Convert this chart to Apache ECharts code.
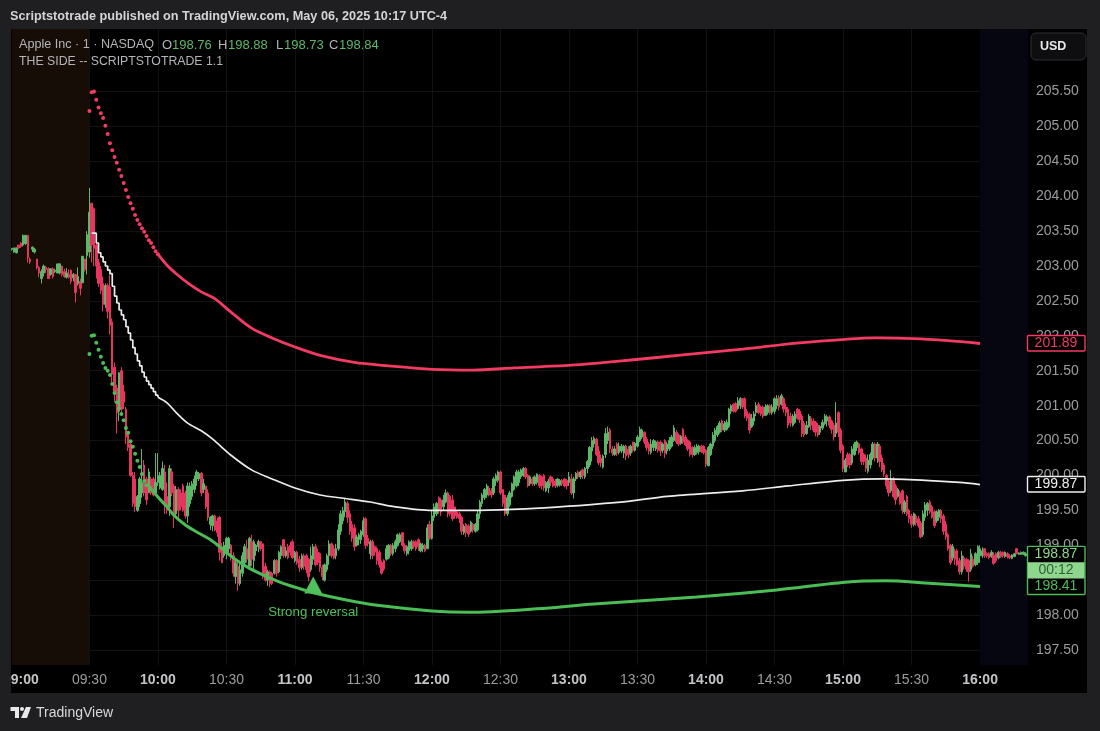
<!DOCTYPE html>
<html><head><meta charset="utf-8">
<style>html,body{margin:0;padding:0;background:#1f1f22;overflow:hidden}#c{width:1100px;height:731px}</style>
<script src="https://cdn.jsdelivr.net/npm/echarts@6/dist/echarts.min.js"></script>
</head><body><div id="c"></div>
<script>
// OHLC rows: [open, close, low, high], one per minute, split by session block
const pre0856=[[203.24,203.25,203.22,203.26],[203.2,203.26,203.19,203.26],[203.19,203.26,203.18,203.26],[203.3,203.26,203.25,203.3],[203.33,203.28,203.26,203.34],[203.3,203.44,203.28,203.45],[203.32,203.44,203.3,203.44],[203.44,203.12,203.05,203.44],[203.1,203.06,203.03,203.12],[203.24,203.27,203.2,203.28],[203.2,203.24,203.18,203.26],[203.1,202.98,202.95,203.1],[202.98,202.9,202.84,203.0],[202.82,202.92,202.75,202.95],[202.9,203.0,202.85,203.02],[202.98,202.95,202.9,203.0],[202.96,202.82,202.82,202.98],[202.88,202.96,202.86,202.97],[202.96,202.85,202.82,202.98],[202.92,202.94,202.9,202.96],[202.9,203.03,202.9,203.03],[202.9,203.03,202.88,203.04],[203.0,202.88,202.85,203.0],[202.92,202.85,202.83,202.96],[202.84,202.9,202.82,202.97],[202.88,202.84,202.82,202.95],[202.94,202.78,202.74,202.95],[202.83,202.88,202.78,202.9],[202.88,202.62,202.48,202.88],[202.75,202.85,202.72,202.98],[202.78,202.68,202.58,202.82],[202.76,203.14,202.76,203.14],[203.1,202.95,202.92,203.1],[203.15,203.45,202.88,203.5]];
const open0930=[[203.2,203.77,203.12,204.12],[203.9,203.3,203.05,203.9],[203.82,203.25,203.0,203.84],[203.3,203.0,202.82,203.35],[203.05,202.75,202.7,203.1],[202.95,202.65,202.6,203.0],[202.75,202.45,202.35,202.85],[202.45,202.72,202.4,202.75],[202.72,202.35,202.25,202.75],[202.7,202.15,202.02,202.88],[202.2,201.45,201.3,202.25],[201.55,201.2,201.05,201.62],[201.25,200.9,200.6,201.3],[200.92,201.47,200.78,201.48],[201.5,200.95,200.9,201.55],[201.2,201.05,200.95,201.3],[200.95,200.55,200.45,200.98],[200.6,200.4,200.35,200.62],[200.45,200.0,199.98,200.5],[200.0,199.6,199.55,200.05],[199.95,199.55,199.48,200.05],[199.5,199.7,199.48,199.72],[199.6,199.95,199.55,199.98],[199.75,199.9,199.68,200.38],[200.15,199.75,199.7,200.22],[199.95,199.65,199.58,199.98],[199.75,200.05,199.75,200.1],[199.95,199.75,199.72,199.98],[199.95,199.72,199.7,199.98],[199.75,199.9,199.72,200.32]];
const bars1000=[[199.9,200.0,199.85,200.32],[199.82,200.0,199.8,200.05],[199.8,200.1,199.78,200.2],[200.05,199.55,199.45,200.15],[199.7,199.5,199.45,199.9],[199.55,200.1,199.42,200.15],[200.05,199.75,199.7,200.1],[199.85,199.4,199.25,199.88],[199.45,199.8,199.42,199.85],[199.8,199.5,199.38,199.83],[199.75,199.55,199.5,199.8],[199.85,199.5,199.48,199.88],[199.75,199.42,199.38,199.78],[199.42,199.85,199.32,199.9],[199.6,199.85,199.55,199.9],[199.7,199.88,199.65,199.92],[199.8,199.95,199.75,200.0],[199.95,200.05,199.85,200.08],[199.95,200.03,199.92,200.05],[200.03,199.75,199.7,200.05],[199.8,199.88,199.75,199.95],[199.85,199.55,199.52,199.85],[199.75,199.4,199.35,199.8],[199.3,199.4,199.22,199.42],[199.28,199.42,199.2,199.44],[199.42,199.22,199.2,199.44],[199.35,199.18,199.12,199.4],[199.4,198.9,198.78,199.42],[198.98,198.75,198.75,199.03],[198.85,199.0,198.82,199.05],[198.88,199.1,198.8,199.12],[198.95,199.1,198.85,199.12],[199.0,198.82,198.78,199.02],[198.85,198.6,198.55,198.9],[198.55,198.75,198.45,198.78],[198.7,198.45,198.35,198.78],[198.45,198.65,198.42,198.78],[198.6,198.85,198.55,198.9],[198.75,198.98,198.7,199.02],[198.95,198.8,198.75,199.08],[198.7,199.1,198.72,199.12],[199.05,198.8,198.7,199.15],[198.78,199.05,198.65,199.08],[198.92,199.0,198.85,199.02],[198.98,199.05,198.9,199.08],[199.05,198.95,198.92,199.06],[199.02,198.55,198.52,199.02],[198.7,198.5,198.48,198.75],[198.5,198.62,198.42,198.65],[198.62,198.45,198.4,198.64],[198.6,198.45,198.43,198.62],[198.6,198.78,198.58,198.8],[198.78,198.6,198.55,198.8],[198.62,198.9,198.6,198.92],[198.85,198.98,198.8,199.0],[199.08,198.85,198.82,199.08],[198.85,198.92,198.82,198.98],[198.98,198.82,198.8,199.02],[199.0,198.9,198.85,199.05],[199.05,198.82,198.8,199.08]];
const bars1100=[[198.78,198.9,198.75,198.92],[198.9,198.75,198.72,198.92],[198.8,198.68,198.62,198.85],[198.68,198.85,198.65,198.88],[198.85,198.7,198.65,198.88],[198.85,198.65,198.6,198.88],[198.8,198.55,198.48,198.82],[198.65,198.85,198.62,198.98],[198.8,198.98,198.72,199.02],[198.98,198.72,198.7,199.02],[198.9,198.75,198.72,198.95],[198.88,198.68,198.62,198.9],[198.68,198.55,198.5,198.72],[198.5,198.72,198.48,198.74],[198.65,198.85,198.62,198.88],[198.85,199.02,198.72,199.07],[199.02,198.85,198.82,199.04],[198.95,198.82,198.8,199.0],[198.85,198.95,198.8,199.02],[198.95,199.22,198.92,199.3],[199.2,199.45,199.15,199.5],[199.35,199.5,199.3,199.55],[199.48,199.62,199.4,199.67],[199.6,199.4,199.32,199.63],[199.45,199.2,199.15,199.5],[199.3,199.1,199.05,199.35],[199.25,198.98,198.92,199.3],[199.0,199.12,198.98,199.15],[199.08,199.15,199.0,199.18],[199.08,199.2,199.02,199.22],[199.15,199.35,199.12,199.4],[199.38,199.0,198.95,199.4],[199.1,199.02,198.98,199.15],[198.88,199.05,198.8,199.08],[199.05,198.85,198.8,199.08],[198.98,198.9,198.85,199.0],[198.95,198.78,198.72,198.98],[198.9,198.72,198.68,198.93],[198.75,198.6,198.58,198.78],[198.78,198.66,198.63,198.8],[198.8,198.95,198.78,199.0],[198.82,199.0,198.8,199.02],[199.0,198.88,198.85,199.02],[198.88,199.0,198.85,199.03],[198.95,199.05,198.9,199.08],[199.0,199.15,198.98,199.17],[199.05,199.15,199.03,199.18],[199.18,199.0,198.98,199.18],[199.0,198.92,198.88,199.03],[198.88,198.98,198.85,199.0],[198.92,199.05,198.87,199.07],[198.95,199.05,198.92,199.08],[199.05,198.98,198.95,199.07],[199.05,198.95,198.92,199.07],[199.08,198.98,198.92,199.1],[198.92,199.02,198.9,199.04],[198.95,199.0,198.9,199.03],[199.0,198.92,198.9,199.02],[198.95,199.25,198.95,199.3],[199.3,199.1,199.08,199.35]];
const bars1200=[[199.1,199.42,199.08,199.5],[199.4,199.55,199.35,199.6],[199.45,199.6,199.42,199.62],[199.68,199.5,199.45,199.7],[199.65,199.48,199.42,199.68],[199.55,199.65,199.5,199.72],[199.62,199.75,199.6,199.8],[199.75,199.45,199.4,199.77],[199.7,199.45,199.42,199.72],[199.65,199.38,199.35,199.72],[199.55,199.42,199.38,199.55],[199.48,199.4,199.38,199.5],[199.45,199.38,199.32,199.48],[199.4,199.2,199.15,199.42],[199.18,199.27,199.15,199.3],[199.3,199.18,199.12,199.32],[199.28,199.16,199.12,199.3],[199.2,199.33,199.18,199.35],[199.3,199.22,199.18,199.32],[199.2,199.3,199.18,199.32],[199.22,199.45,199.2,199.5],[199.45,199.62,199.38,199.65],[199.6,199.72,199.55,199.75],[199.68,199.8,199.65,199.82],[199.72,199.85,199.68,199.88],[199.82,199.72,199.7,199.85],[199.78,199.72,199.68,199.82],[199.75,199.95,199.72,199.98],[199.92,200.0,199.85,200.03],[199.93,200.05,199.9,200.07],[200.05,199.75,199.72,200.07],[199.8,199.6,199.55,199.8],[199.72,199.45,199.42,199.72],[199.45,199.68,199.42,199.72],[199.58,199.75,199.55,199.78],[199.7,199.88,199.68,199.9],[199.8,199.98,199.78,200.0],[199.85,200.05,199.83,200.08],[199.9,200.05,199.85,200.08],[199.98,200.08,199.95,200.1],[200.0,200.1,199.98,200.12],[200.1,199.98,199.95,200.12],[200.0,199.85,199.83,200.02],[199.88,199.98,199.85,200.0],[199.95,199.88,199.85,199.98],[199.88,199.98,199.85,200.0],[199.9,200.02,199.87,200.03],[200.0,199.85,199.82,200.02],[199.98,199.85,199.8,200.0],[200.0,199.82,199.78,200.02],[199.78,199.9,199.76,199.92],[199.82,199.92,199.75,199.95],[199.98,199.9,199.85,200.0],[199.95,199.85,199.83,199.98],[199.92,199.85,199.82,199.95],[199.86,199.95,199.83,199.96],[199.86,199.93,199.84,199.95],[199.93,199.88,199.85,199.95],[199.95,199.85,199.83,199.96],[199.93,199.85,199.8,199.95]];
const bars1300=[[199.9,199.98,199.85,200.05],[199.95,199.75,199.72,200.02],[199.75,199.95,199.67,199.98],[199.95,200.03,199.92,200.05],[200.05,199.98,199.95,200.07],[199.98,200.05,199.95,200.07],[200.08,200.0,199.95,200.1],[199.98,200.1,199.95,200.12],[200.1,200.2,200.03,200.22],[200.15,200.4,200.12,200.42],[200.35,200.5,200.2,200.55],[200.45,200.53,200.4,200.56],[200.52,200.3,200.28,200.54],[200.35,200.18,200.15,200.42],[200.25,200.18,200.12,200.3],[200.12,200.28,200.1,200.3],[200.3,200.6,200.25,200.68],[200.5,200.62,200.45,200.7],[200.65,200.38,200.32,200.68],[200.38,200.32,200.28,200.42],[200.3,200.38,200.28,200.42],[200.45,200.32,200.28,200.47],[200.33,200.42,200.3,200.47],[200.35,200.42,200.32,200.45],[200.32,200.42,200.25,200.44],[200.42,200.28,200.22,200.44],[200.38,200.3,200.25,200.42],[200.32,200.42,200.28,200.44],[200.48,200.36,200.33,200.48],[200.36,200.46,200.34,200.48],[200.42,200.55,200.4,200.58],[200.5,200.66,200.48,200.7],[200.55,200.65,200.52,200.67],[200.62,200.48,200.45,200.63],[200.52,200.4,200.35,200.55],[200.45,200.35,200.3,200.48],[200.33,200.45,200.3,200.52],[200.4,200.5,200.35,200.52],[200.38,200.48,200.35,200.5],[200.48,200.36,200.33,200.5],[200.48,200.35,200.28,200.5],[200.36,200.45,200.32,200.47],[200.5,200.32,200.25,200.52],[200.35,200.45,200.3,200.48],[200.38,200.5,200.35,200.55],[200.42,200.55,200.4,200.58],[200.5,200.68,200.48,200.72],[200.62,200.48,200.45,200.65],[200.58,200.45,200.42,200.6],[200.46,200.56,200.44,200.58],[200.66,200.48,200.45,200.68],[200.55,200.44,200.42,200.58],[200.5,200.38,200.35,200.52],[200.48,200.3,200.27,200.5],[200.4,200.3,200.26,200.42],[200.3,200.4,200.28,200.43],[200.33,200.42,200.3,200.45],[200.34,200.42,200.3,200.44],[200.42,200.34,200.32,200.44],[200.42,200.33,200.3,200.43]];
const bars1400=[[200.36,200.16,200.12,200.38],[200.14,200.4,200.13,200.42],[200.3,200.45,200.28,200.47],[200.42,200.58,200.38,200.62],[200.5,200.65,200.47,200.68],[200.58,200.7,200.55,200.72],[200.62,200.75,200.6,200.78],[200.78,200.65,200.62,200.8],[200.65,200.74,200.62,200.78],[200.66,200.76,200.64,200.8],[200.7,200.95,200.68,200.97],[200.92,201.0,200.88,201.02],[201.02,200.92,200.9,201.03],[201.03,200.92,200.9,201.05],[200.96,201.07,200.94,201.12],[201.0,201.1,200.95,201.12],[201.1,200.98,200.95,201.11],[201.1,200.85,200.82,201.12],[200.92,200.82,200.78,200.95],[200.88,200.65,200.6,200.9],[200.7,200.82,200.68,200.88],[200.78,200.88,200.72,200.92],[200.9,201.0,200.85,201.05],[201.02,200.9,200.88,201.05],[200.98,200.88,200.85,201.0],[200.98,200.85,200.82,201.0],[200.86,200.98,200.85,201.02],[200.9,201.0,200.87,201.02],[201.0,200.9,200.87,201.02],[200.9,200.98,200.87,201.02],[200.92,201.1,200.88,201.12],[201.0,201.1,200.95,201.15],[201.12,200.98,200.93,201.15],[201.02,201.14,201.0,201.17],[201.1,200.95,200.9,201.12],[200.98,200.9,200.85,201.03],[200.95,200.72,200.68,200.98],[200.85,200.75,200.7,200.9],[200.72,200.85,200.7,200.88],[200.76,200.88,200.74,200.92],[200.95,200.82,200.8,200.97],[200.92,200.8,200.75,200.95],[200.85,200.6,200.55,200.88],[200.75,200.58,200.55,200.78],[200.6,200.72,200.58,200.78],[200.7,200.85,200.68,200.88],[200.82,200.72,200.65,200.85],[200.78,200.65,200.62,200.82],[200.76,200.62,200.56,200.78],[200.72,200.58,200.55,200.75],[200.62,200.7,200.58,200.72],[200.68,200.76,200.65,200.8],[200.74,200.85,200.72,200.88],[200.78,200.84,200.7,200.87],[200.84,200.72,200.68,200.86],[200.78,200.66,200.6,200.8],[200.72,200.55,200.5,200.75],[200.6,200.75,200.55,201.05],[200.9,200.62,200.55,200.92],[200.65,200.36,200.32,200.68]];
const bars1500=[[200.42,200.1,200.05,200.45],[200.05,200.22,200.05,200.25],[200.3,200.15,200.12,200.33],[200.3,200.15,200.1,200.32],[200.18,200.38,200.15,200.42],[200.3,200.45,200.28,200.48],[200.4,200.48,200.35,200.5],[200.45,200.33,200.3,200.47],[200.38,200.2,200.15,200.4],[200.3,200.2,200.15,200.32],[200.25,200.1,200.05,200.3],[200.06,200.22,200.03,200.3],[200.15,200.3,200.1,200.33],[200.25,200.45,200.22,200.48],[200.45,200.25,200.2,200.47],[200.25,200.45,200.18,200.48],[200.42,200.2,200.12,200.45],[200.25,200.08,200.05,200.3],[200.15,200.02,199.98,200.18],[200.0,199.85,199.8,200.02],[199.92,199.75,199.7,199.95],[199.78,199.95,199.75,200.08],[199.95,199.7,199.68,199.98],[199.85,199.65,199.58,199.88],[199.7,199.8,199.68,199.82],[199.75,199.6,199.58,199.78],[199.78,199.5,199.45,199.8],[199.48,199.62,199.45,199.65],[199.7,199.45,199.42,199.72],[199.5,199.38,199.32,199.52],[199.42,199.3,199.25,199.45],[199.3,199.45,199.27,199.47],[199.42,199.32,199.28,199.45],[199.38,199.28,199.25,199.42],[199.32,199.12,199.1,199.35],[199.15,199.45,199.12,199.5],[199.4,199.58,199.35,199.62],[199.5,199.6,199.42,199.62],[199.62,199.48,199.45,199.65],[199.55,199.4,199.38,199.58],[199.48,199.28,199.25,199.5],[199.35,199.48,199.32,199.5],[199.4,199.5,199.35,199.52],[199.5,199.38,199.32,199.52],[199.42,199.2,199.15,199.45],[199.3,199.12,199.08,199.35],[199.15,198.95,198.92,199.18],[199.0,198.75,198.72,199.02],[198.82,198.98,198.78,199.02],[198.92,198.8,198.72,198.95],[198.92,198.72,198.7,198.95],[198.78,198.62,198.58,198.82],[198.62,198.85,198.58,198.92],[198.82,198.7,198.65,198.85],[198.8,198.66,198.62,198.82],[198.78,198.62,198.48,198.8],[198.65,198.88,198.62,198.95],[198.8,198.7,198.68,198.85],[198.72,198.88,198.7,198.9],[198.75,198.98,198.72,199.0]];
const post1600=[[198.85,198.95,198.75,199.0],[198.85,198.92,198.82,198.97],[198.95,198.85,198.82,198.96],[198.88,198.85,198.82,198.9],[198.88,198.82,198.8,198.9],[198.84,198.9,198.82,198.93],[198.86,198.74,198.72,198.9],[198.88,198.78,198.75,198.9],[198.82,198.9,198.8,198.92],[198.9,198.84,198.82,198.92],[198.9,198.85,198.82,198.91],[198.84,198.9,198.82,198.91],[198.88,198.84,198.81,198.9],[198.85,198.82,198.8,198.87],[198.81,198.86,198.8,198.87],[198.84,198.88,198.83,198.89],[198.95,198.88,198.87,198.96],[198.87,198.89,198.86,198.9],[198.87,198.9,198.86,198.91],[198.87,198.9,198.86,198.91],[198.85,198.88,198.84,198.9]];

// Upper band: dotted first half hour then solid; values as [time, price]
const upperDots=[["09:30",205.22],["09:31",205.49],["09:32",205.5],["09:33",205.38],["09:34",205.27],["09:35",205.19],["09:36",205.12],["09:37",205.01],["09:38",204.89],["09:39",204.76],["09:40",204.66],["09:41",204.56],["09:42",204.48],["09:43",204.38],["09:44",204.29],["09:45",204.19],["09:46",204.09],["09:47",203.99],["09:48",203.9],["09:49",203.82],["09:50",203.73],["09:51",203.66],["09:52",203.6],["09:53",203.54],["09:54",203.49],["09:55",203.43],["09:56",203.37],["09:57",203.33],["09:58",203.27],["09:59",203.21],["10:00",203.17]];
const upperLine=[["10:00",203.17],["10:04",203.01],["10:08",202.89],["10:13",202.76],["10:19",202.63],["10:25",202.53],["10:32",202.34],["10:41",202.11],["10:50",201.97],["11:00",201.84],["11:11",201.72],["11:26",201.62],["11:41",201.57],["12:00",201.52],["12:18",201.51],["12:36",201.54],["13:01",201.58],["13:26",201.65],["13:51",201.73],["14:16",201.81],["14:41",201.9],["15:01",201.95],["15:14",201.97],["15:31",201.96],["15:46",201.93],["16:00",201.89]];
// VWAP: stepped over the open, smooth after
const vwapOpen=[["09:31",203.47],["09:32",203.47],["09:33",203.33],["09:34",203.19],["09:35",203.13],["09:36",203.06],["09:37",203.0],["09:38",202.94],["09:39",202.89],["09:40",202.71],["09:41",202.57],["09:42",202.47],["09:43",202.37],["09:44",202.3],["09:45",202.23],["09:46",202.13],["09:47",202.04],["09:48",201.94],["09:49",201.83],["09:50",201.74],["09:51",201.64],["09:52",201.57],["09:53",201.48],["09:54",201.41],["09:55",201.35],["09:56",201.3],["09:57",201.25],["09:58",201.2],["09:59",201.15],["10:00",201.12]];
const vwapDay=[["10:00",201.12],["10:04",201.04],["10:08",200.9],["10:13",200.75],["10:19",200.64],["10:24",200.52],["10:32",200.29],["10:41",200.08],["10:50",199.95],["11:00",199.82],["11:11",199.72],["11:22",199.67],["11:33",199.62],["11:42",199.56],["12:00",199.5],["12:21",199.5],["12:41",199.52],["13:00",199.56],["13:26",199.63],["13:43",199.7],["14:16",199.78],["14:36",199.85],["15:00",199.93],["15:18",199.95],["15:36",199.93],["15:51",199.9],["16:00",199.87]];
// Lower band
const lowerDots=[["09:30",201.74],["09:31",202.0],["09:32",202.01],["09:33",201.9],["09:34",201.8],["09:35",201.7],["09:36",201.61],["09:37",201.54],["09:38",201.5],["09:39",201.44],["09:40",201.31],["09:41",201.18],["09:42",201.05],["09:43",200.96],["09:44",200.88],["09:45",200.79],["09:46",200.68],["09:47",200.61],["09:48",200.49],["09:49",200.41],["09:50",200.31],["09:51",200.21],["09:52",200.12],["09:53",200.02],["09:54",199.92],["09:55",199.86]];
const lowerLine=[["09:56",199.85],["10:00",199.69],["10:04",199.55],["10:07",199.43],["10:12",199.29],["10:17",199.19],["10:23",199.08],["10:27",198.98],["10:33",198.82],["10:39",198.69],["10:45",198.59],["10:52",198.49],["10:58",198.42],["11:03",198.37],["11:08",198.32],["11:22",198.22],["11:36",198.14],["12:00",198.06],["12:16",198.04],["12:46",198.09],["13:11",198.16],["13:56",198.26],["14:31",198.36],["15:01",198.47],["15:19",198.49],["15:36",198.46],["16:00",198.41]];
const reversalSignal=[["11:08",198.43]];
const priceTicks=[197.5,198,198.5,199,199.5,200,200.5,201,201.5,202,202.5,203,203.5,204,204.5,205,205.5];
const priceTags={upper:201.89,vwap:199.87,last:198.87,lower:198.41};
const legendOHLC=["198.76","198.88","198.73","198.84"];

const ohlc=[].concat(pre0856,open0930,bars1000,bars1100,bars1200,bars1300,bars1400,bars1500,post1600);
const pad=n=>String(n).padStart(2,'0');
const times=[];for(let m=536;m<=536+445;m++)times.push(pad(Math.floor(m/60))+':'+pad(m%60));

const UP='#5cb868',DOWN='#e8355f',RED='#f23a62',GREEN='#4bbd55',WHITE='#ececec',GUT='#1f1f22';
const FONT='"Liberation Sans",Arial,sans-serif';
const chart=echarts.init(document.getElementById('c'),null,{renderer:'canvas'});
chart.setOption({
 animation:false,backgroundColor:GUT,
 grid:{left:11,top:29,width:1017,height:636,containLabel:false},
 xAxis:{type:'category',data:times,boundaryGap:false,
  axisLine:{show:false},axisTick:{show:false},
  splitLine:{show:true,lineStyle:{color:'#121214',width:1},interval:(i,v)=>/:(00|30)$/.test(v)},
  axisLabel:{margin:8,hideOverlap:false,interval:(i,v)=>/:(00|30)$/.test(v),
   formatter:v=>v.endsWith(':00')?'{b|'+v+'}':'{n|'+v+'}',
   rich:{b:{fontFamily:FONT,fontSize:14,fontWeight:'bold',color:'#c4c4c8'},n:{fontFamily:FONT,fontSize:14,color:'#9c9ca0'}}}},
 yAxis:{type:'value',position:'right',min:197.285,max:206.395,scale:true,
  axisLine:{show:false},axisTick:{show:false,customValues:priceTicks},
  splitLine:{show:true,lineStyle:{color:'#121214',width:1}},
  axisLabel:{customValues:priceTicks,margin:8,padding:[3,0,0,0],color:'#9c9ca0',fontFamily:FONT,fontSize:14,formatter:v=>v.toFixed(2)}},
 series:[
  {type:'candlestick',data:ohlc,barWidth:2,z:2,
   itemStyle:{color:UP,color0:DOWN,borderColor:UP,borderColor0:DOWN,borderWidth:1},
   markArea:{silent:true,z:1,data:[
    [{xAxis:'08:56',itemStyle:{color:'#160e06'}},{xAxis:'09:30'}],
    [{xAxis:'16:00',itemStyle:{color:'#05060f'}},{xAxis:times[times.length-1]}]]}},
  {type:'line',data:upperLine,smooth:0.3,symbol:'none',z:4,lineStyle:{color:RED,width:2.8}},
  {type:'scatter',data:upperDots,symbolSize:4,z:4,itemStyle:{color:RED,opacity:1}},
  {type:'line',data:vwapOpen,step:'end',symbol:'none',z:4,lineStyle:{color:WHITE,width:1.7}},
  {type:'line',data:vwapDay,smooth:0.3,symbol:'none',z:4,lineStyle:{color:WHITE,width:1.7}},
  {type:'line',data:lowerLine,smooth:0.3,symbol:'none',z:4,lineStyle:{color:GREEN,width:3}},
  {type:'scatter',data:lowerDots,symbolSize:4,z:4,itemStyle:{color:GREEN,opacity:1}},
  {type:'scatter',data:reversalSignal,symbol:'triangle',symbolSize:[18,17],z:5,itemStyle:{color:'#4fc05a',opacity:1},
   label:{show:true,position:'bottom',distance:12,formatter:'Strong reversal',color:'#4fc05a',fontFamily:FONT,fontSize:13.3}}
 ]
});
const py=v=>chart.convertToPixel({yAxisIndex:0},v);
const tag=(v,col)=>[
 {type:'rect',z:50,shape:{x:1027.5,y:py(v)-8,width:57.5,height:15.5,r:1},style:{fill:'#000',stroke:col,lineWidth:1.4}},
 {type:'text',z:51,x:1056,y:py(v),style:{text:v.toFixed(2),fill:col,font:'14px '+FONT,textAlign:'center',textVerticalAlign:'middle'}}];
const txt=(x,y,text,fill,font)=>({type:'text',z:60,x,y,style:{text,fill,font:font||('13px '+FONT),textVerticalAlign:'middle'}});
const yL=py(priceTags.last),yW=py(priceTags.lower);
const els=[
 {type:'rect',z:-10,shape:{x:11,y:29,width:1076,height:664},style:{fill:'#000'}},
 {type:'rect',z:100,shape:{x:0,y:0,width:10.5,height:731},style:{fill:GUT}},
 txt(10,16,'Scriptstotrade published on TradingView.com, May 06, 2025 10:17 UTC-4','#d4d4d8','bold 12.7px '+FONT),
 txt(19,45,'Apple Inc · 1 · NASDAQ','#b4b4b8','12.6px '+FONT),
 txt(162,45,'O','#b4b4b8'),txt(172,45,legendOHLC[0],UP),
 txt(218,45,'H','#b4b4b8'),txt(228,45,legendOHLC[1],UP),
 txt(276,45,'L','#b4b4b8'),txt(284,45,legendOHLC[2],UP),
 txt(329,45,'C','#b4b4b8'),txt(339,45,legendOHLC[3],UP),
 txt(19,62,'THE SIDE -- SCRIPTSTOTRADE 1.1','#b4b4b8','12.3px '+FONT),
 {type:'rect',z:50,shape:{x:1031,y:33,width:55,height:27,r:5},style:{fill:'#0e0e10',stroke:'#2e2e32',lineWidth:1}},
 txt(1040,46.5,'USD','#e8e8ea','bold 12.5px '+FONT),
 ...tag(priceTags.upper,RED),...tag(priceTags.vwap,'#f0f0f0'),
 {type:'rect',z:50,shape:{x:1027.5,y:yL-8,width:57.5,height:yW-yL+16,r:1},style:{fill:'#000',stroke:GREEN,lineWidth:1.4}},
 {type:'rect',z:51,shape:{x:1028,y:yL+8,width:56.5,height:yW-yL-16},style:{fill:'#8fd68f'}},
 {type:'text',z:52,x:1056,y:yL,style:{text:priceTags.last.toFixed(2),fill:'#8fd68f',font:'14px '+FONT,textAlign:'center',textVerticalAlign:'middle'}},
 {type:'text',z:52,x:1056,y:(yL+yW)/2,style:{text:'00:12',fill:'#2f5f35',font:'14px '+FONT,textAlign:'center',textVerticalAlign:'middle'}},
 {type:'text',z:52,x:1056,y:yW,style:{text:priceTags.lower.toFixed(2),fill:GREEN,font:'14px '+FONT,textAlign:'center',textVerticalAlign:'middle'}},
 {type:'polygon',z:60,shape:{points:[[10,707],[19,707],[19,718],[15,718],[15,711],[10,711]]},style:{fill:'#e8e8ea'}},
 {type:'circle',z:60,shape:{cx:22,cy:709,r:2},style:{fill:'#e8e8ea'}},
 {type:'polygon',z:60,shape:{points:[[26,707],[31,707],[27,718],[21,718]]},style:{fill:'#e8e8ea'}},
 txt(36,713.5,'TradingView','#d8d8dc','14px '+FONT)
];
chart.setOption({graphic:{elements:els}});
</script></body></html>
